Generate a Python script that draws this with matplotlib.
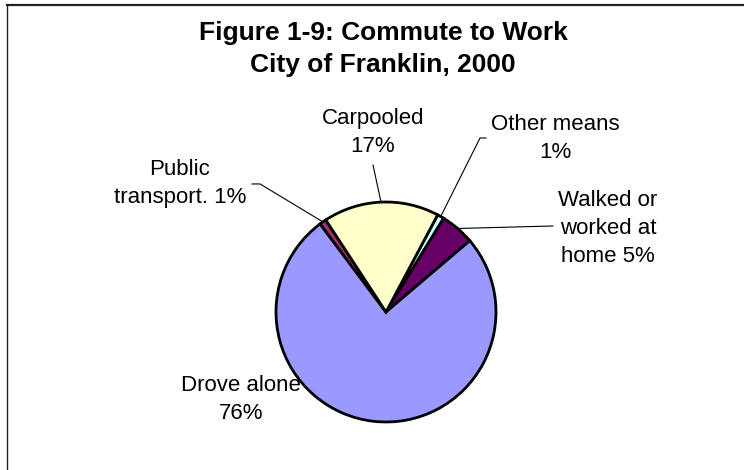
import numpy as np
import matplotlib.pyplot as plt
from matplotlib.lines import Line2D

plt.rcParams['font.family'] = ['Liberation Sans', 'DejaVu Sans']

# commute shares, listed clockwise from the Other means slice
modes = ["Other means", "Walked or\nworked at\nhome", "Drove alone", "Public\ntransport.", "Carpooled"]
shares = [1, 5, 76, 1, 17]
seps = ["\n", " ", "\n", " ", "\n"]
colors = ["#CCFFFF", "#660066", "#9999FF", "#993366", "#FFFFCC"]

# label anchors (last-line baseline) and leader line bends, in pie-radius units
label_pos = [(1.536, 1.40), (2.018, 0.455), (-1.318, -0.973), (-1.873, 0.991), (-0.118, 1.455)]
leader_pts = [[(0.855, 1.582), (0.909, 1.582)],
              [(1.518, 0.782)],
              None,
              [(-1.145, 1.164), (-1.218, 1.164)],
              [(-0.118, 1.336)]]

W, H = 744, 470
fig = plt.figure(figsize=(W / 100, H / 100), dpi=100)
fig.patch.set_facecolor('white')

# pie centre at (386, 312) px, radius 110 px
cx, cy, r = 386, 312, 110
ax = fig.add_axes([(cx - r) / W, (H - cy - r) / H, 2 * r / W, 2 * r / H])

wedges, _ = ax.pie(shares, colors=colors, startangle=62, counterclock=False,
                   radius=1, wedgeprops=dict(edgecolor='black', linewidth=2.0))
ax.set_xlim(-1, 1)
ax.set_ylim(-1, 1)
ax.axis('off')

for w, name, val, sep, pos, pts in zip(wedges, modes, shares, seps, label_pos, leader_pts):
    ax.text(pos[0], pos[1], f"{name}{sep}{val}%", ha='center', va='baseline',
            multialignment='center', fontsize=16, linespacing=1.45, clip_on=False)
    if pts:
        mid = np.deg2rad((w.theta1 + w.theta2) / 2)
        xs = [np.cos(mid)] + [p[0] for p in pts]
        ys = [np.sin(mid)] + [p[1] for p in pts]
        ax.plot(xs, ys, color='black', lw=0.8, clip_on=False)

fig.text(383 / W, 1 - 72 / H, "Figure 1-9: Commute to Work\nCity of Franklin, 2000",
         ha='center', va='baseline', multialignment='center',
         fontsize=19, fontweight='bold', linespacing=1.42)

# chart area frame, only top and left edges fall inside the image
fig.add_artist(Line2D([7 / W, 1], [1 - 5 / H, 1 - 5 / H], color='#222222', lw=1.6))
fig.add_artist(Line2D([7 / W, 7 / W], [0, 1 - 5 / H], color='#222222', lw=1.0))

fig.savefig('out.png', dpi=100)
